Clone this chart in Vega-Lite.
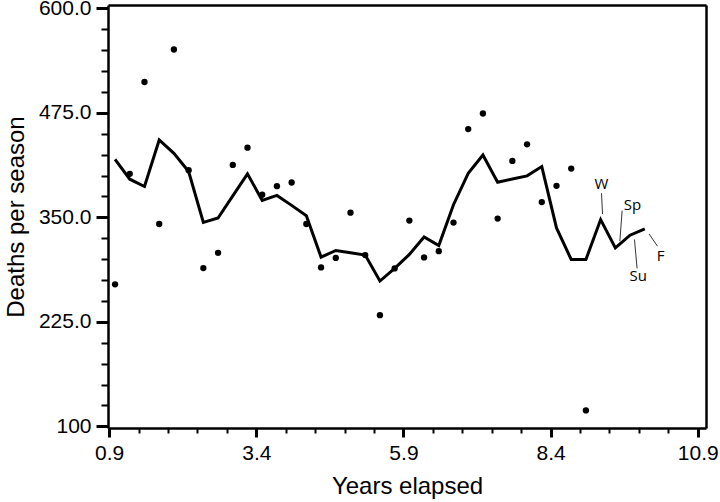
{
  "$schema": "https://vega.github.io/schema/vega-lite/v6.json",
  "width": 598,
  "height": 423,
  "autosize": {"type": "none"},
  "padding": {"left": 108, "top": 5, "right": 14, "bottom": 74},
  "resolve": {"axis": {"x": "independent", "y": "independent"}},
  "datasets": {
    "series": [
      {"t": 1.0, "fit": 419.4, "obs": 269.9},
      {"t": 1.25, "fit": 395.6, "obs": 402.0},
      {"t": 1.5, "fit": 386.9, "obs": 511.9},
      {"t": 1.75, "fit": 442.5, "obs": 342.0},
      {"t": 2.0, "fit": 426.5, "obs": 550.8},
      {"t": 2.25, "fit": 404.8, "obs": 406.3},
      {"t": 2.5, "fit": 344.0, "obs": 289.3},
      {"t": 2.75, "fit": 349.2, "obs": 307.5},
      {"t": 3.0, "fit": 375.6, "obs": 412.7},
      {"t": 3.25, "fit": 402.0, "obs": 433.3},
      {"t": 3.5, "fit": 370.2, "obs": 377.0},
      {"t": 3.75, "fit": 376.2, "obs": 387.3},
      {"t": 4.0, "fit": 364.3, "obs": 391.7},
      {"t": 4.25, "fit": 352.0, "obs": 342.0},
      {"t": 4.5, "fit": 302.4, "obs": 290.1},
      {"t": 4.75, "fit": 310.4, "obs": 301.5},
      {"t": 5.0, "fit": 307.6, "obs": 355.6},
      {"t": 5.25, "fit": 304.8, "obs": 304.8},
      {"t": 5.5, "fit": 273.8, "obs": 233.0},
      {"t": 5.75, "fit": 288.9, "obs": 288.9},
      {"t": 6.0, "fit": 305.6, "obs": 346.1},
      {"t": 6.25, "fit": 326.5, "obs": 302.0},
      {"t": 6.5, "fit": 316.3, "obs": 309.5},
      {"t": 6.75, "fit": 365.1, "obs": 343.7},
      {"t": 7.0, "fit": 402.7, "obs": 455.6},
      {"t": 7.25, "fit": 424.6, "obs": 474.2},
      {"t": 7.5, "fit": 392.0, "obs": 348.5},
      {"t": 7.75, "fit": 395.8, "obs": 417.5},
      {"t": 8.0, "fit": 399.6, "obs": 437.3},
      {"t": 8.25, "fit": 410.7, "obs": 368.2},
      {"t": 8.5, "fit": 337.3, "obs": 387.7},
      {"t": 8.75, "fit": 299.6, "obs": 408.3},
      {"t": 9.0, "fit": 299.6, "obs": 119.0},
      {"t": 9.25, "fit": 347.3, "obs": null},
      {"t": 9.5, "fit": 313.5, "obs": null},
      {"t": 9.75, "fit": 328.6, "obs": null},
      {"t": 10.0, "fit": 336.1, "obs": null}
    ],
    "labels": [
      {"t": 9.265, "v": 389.6, "label": "W"},
      {"t": 9.791, "v": 365.1, "label": "Sp"},
      {"t": 9.887, "v": 279.8, "label": "Su"},
      {"t": 10.267, "v": 303.6, "label": "F"}
    ],
    "leaders": [
      {"t": 9.265, "v": 378.9, "t2": 9.282, "v2": 353.9},
      {"t": 9.615, "v": 358.0, "t2": 9.576, "v2": 321.4},
      {"t": 9.825, "v": 323.5, "t2": 9.869, "v2": 288.9},
      {"t": 10.073, "v": 330.1, "t2": 10.216, "v2": 315.5}
    ]
  },
  "layer": [
    {
      "data": {"name": "series"},
      "mark": {"type": "line", "color": "black", "strokeWidth": 3, "strokeJoin": "miter"},
      "encoding": {
        "x": {
          "field": "t", "type": "quantitative",
          "scale": {"domain": [0.88, 11.04], "nice": false, "zero": false},
          "axis": {
            "orient": "bottom",
            "title": "Years elapsed",
            "values": [0.9, 3.4, 5.9, 8.4, 10.9],
            "format": ".1f",
            "grid": false,
            "domainColor": "black",
            "domainWidth": 2.5,
            "ticks": true,
            "tickColor": "#000000",
            "tickOpacity": 1,
            "tickWidth": 3,
            "tickSize": 9,
            "labelColor": "black",
            "labelFont": "Liberation Sans",
            "labelFontSize": 21,
            "labelPadding": 5,
            "titleColor": "black",
            "titleFont": "Liberation Sans",
            "titleFontSize": 24,
            "titleFontWeight": "normal",
            "titlePadding": 11
          }
        },
        "y": {
          "field": "fit", "type": "quantitative",
          "scale": {"domain": [98, 604], "nice": false, "zero": false},
          "axis": {
            "orient": "left",
            "title": "Deaths per season",
            "values": [100, 225, 350, 475, 600],
            "labelExpr": "datum.value == 100 ? '100' : format(datum.value, '.1f')",
            "grid": false,
            "domainColor": "black",
            "domainWidth": 2.5,
            "ticks": true,
            "tickColor": "#000000",
            "tickOpacity": 1,
            "tickWidth": 3,
            "tickSize": 12,
            "labelColor": "black",
            "labelFont": "Liberation Sans",
            "labelFontSize": 21,
            "labelPadding": 5,
            "titleColor": "black",
            "titleFont": "Liberation Sans",
            "titleFontSize": 24,
            "titleFontWeight": "normal",
            "titlePadding": 10
          }
        }
      }
    },
    {
      "data": {"name": "series"},
      "mark": {"type": "point", "filled": true, "color": "black", "opacity": 1, "size": 40},
      "encoding": {
        "x": {
          "field": "t", "type": "quantitative",
          "axis": {
            "orient": "bottom",
            "title": null,
            "values": [1.4, 1.9, 2.4, 2.9, 3.9, 4.4, 4.9, 5.4, 6.4, 6.9, 7.4, 7.9, 8.9, 9.4, 9.9, 10.4],
            "labels": false,
            "domain": false,
            "grid": false,
            "ticks": true,
            "tickColor": "#000000",
            "tickOpacity": 1,
            "tickWidth": 2,
            "tickSize": 5
          }
        },
        "y": {
          "field": "obs", "type": "quantitative",
          "axis": {
            "orient": "left",
            "title": null,
            "values": [125, 150, 175, 200, 250, 275, 300, 325, 375, 400, 425, 450, 500, 525, 550, 575],
            "labels": false,
            "domain": false,
            "grid": false,
            "ticks": true,
            "tickColor": "#000000",
            "tickOpacity": 1,
            "tickWidth": 2,
            "tickSize": 7
          }
        }
      }
    },
    {
      "data": {"name": "leaders"},
      "mark": {"type": "rule", "color": "black", "strokeWidth": 0.8},
      "encoding": {
        "x": {
          "field": "t", "type": "quantitative",
          "axis": {"orient": "top", "title": null, "labels": false, "ticks": false, "grid": false, "domainColor": "black", "domainWidth": 2.5}
        },
        "y": {
          "field": "v", "type": "quantitative",
          "axis": {"orient": "right", "title": null, "labels": false, "ticks": false, "grid": false, "domainColor": "black", "domainWidth": 2.5}
        },
        "x2": {"field": "t2"},
        "y2": {"field": "v2"}
      }
    },
    {
      "data": {"name": "labels"},
      "mark": {"type": "text", "color": "black", "font": "Open Sans", "fontSize": 15, "align": "center", "baseline": "middle"},
      "encoding": {
        "x": {"field": "t", "type": "quantitative", "axis": null},
        "y": {"field": "v", "type": "quantitative", "axis": null},
        "text": {"field": "label"}
      }
    }
  ]
}
